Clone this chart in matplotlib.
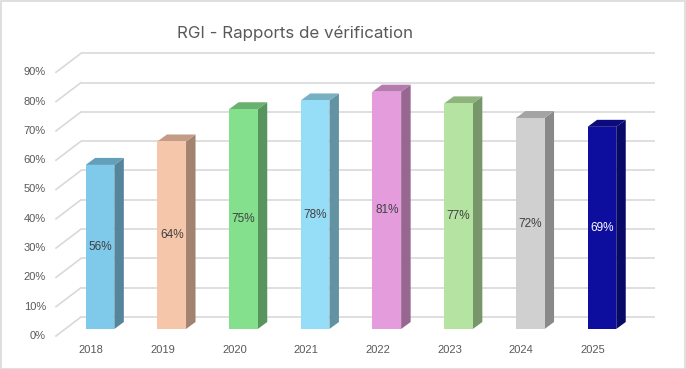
import matplotlib
matplotlib.use("Agg")
import matplotlib.pyplot as plt
from matplotlib.patches import Polygon, Rectangle
import numpy as np

years = ["2018", "2019", "2020", "2021", "2022", "2023", "2024", "2025"]
values = [56, 64, 75, 78, 81, 77, 72, 69]
front_colors = ["#7FC9EA", "#F5C6AA", "#85E08D", "#96DDF7", "#E59CDC", "#B5E3A1", "#D0D0D0", "#0E0E9E"]
label_colors = ["#404040"] * 7 + ["#FFFFFF"]
yticks = list(range(0, 100, 10))
title = "RGI - Rapports de vérification"

W, H = 686, 369
fig = plt.figure(figsize=(W / 100, H / 100), dpi=100)
ax = fig.add_axes([0, 0, 1, 1])
# pixel mapping: x_px = 100 + 71.7*i ; y_top = 329 - 2.93*v
px_x, px_y = 71.7, 2.93
x0, ybase = 100, 329
ax.set_xlim(-x0 / px_x, (W - x0) / px_x)
ax.set_ylim(-(H - ybase) / px_y, ybase / px_y)
ax.axis("off")

# offsets (pixels -> data)
bar_dx, bar_dy = 9.5 / px_x, 7 / px_y
wall_dx, wall_dy = 16 / px_x, 12 / px_y
front_dx, front_dy = -9 / px_x, -7 / px_y
wall_left = (81 - x0) / px_x
wall_right = (655 - x0) / px_x
hw = 0.2

grid_c = "#D9D9D9"
for v in yticks:
    ax.plot([wall_left, wall_right], [v + wall_dy, v + wall_dy], color=grid_c, lw=1.2, zorder=1,
            solid_capstyle="butt")
    ax.plot([wall_left - 25 / px_x, wall_left], [v + front_dy, v + wall_dy], color=grid_c, lw=1.2, zorder=1)
    ax.text((46 - x0) / px_x, v + front_dy, f"{v}%", ha="right", va="center",
            fontsize=8, color="#595959", family="Liberation Sans")


def shade(c, f):
    r, g, b = matplotlib.colors.to_rgb(c)
    return (r * f, g * f, b * f)


for i, (yr, v, c, lc) in enumerate(zip(years, values, front_colors, label_colors)):
    front = Polygon([(i - hw, 0), (i + hw, 0), (i + hw, v), (i - hw, v)], closed=True,
                    facecolor=c, edgecolor="none", zorder=3)
    side = Polygon([(i + hw, 0), (i + hw + bar_dx, bar_dy), (i + hw + bar_dx, v + bar_dy), (i + hw, v)],
                   closed=True, facecolor=shade(c, 0.66), edgecolor="none", zorder=2)
    top = Polygon([(i - hw, v), (i + hw, v), (i + hw + bar_dx, v + bar_dy), (i - hw + bar_dx, v + bar_dy)],
                  closed=True, facecolor=shade(c, 0.79), edgecolor="none", zorder=2)
    for p in (side, top, front):
        ax.add_patch(p)
    ax.text(i, v / 2, f"{v}%", ha="center", va="center", fontsize=8.5, color=lc,
            family="Liberation Sans", zorder=4)
    ax.text(i + front_dx, (ybase - 350) / px_y, yr, ha="center", va="center", fontsize=8,
            color="#595959", family="Liberation Sans")

fig.text(295 / W, 1 - 33 / H, title, ha="center", va="center", fontsize=12.2, color="#595959",
         family="Inter")
fig.patches.append(Rectangle((0.5 / W, 0.5 / H), 1 - 1.5 / W, 1 - 1.5 / H, transform=fig.transFigure,
                             fill=False, edgecolor="#D9D9D9", lw=1.2))
fig.savefig("out.png", dpi=100)
